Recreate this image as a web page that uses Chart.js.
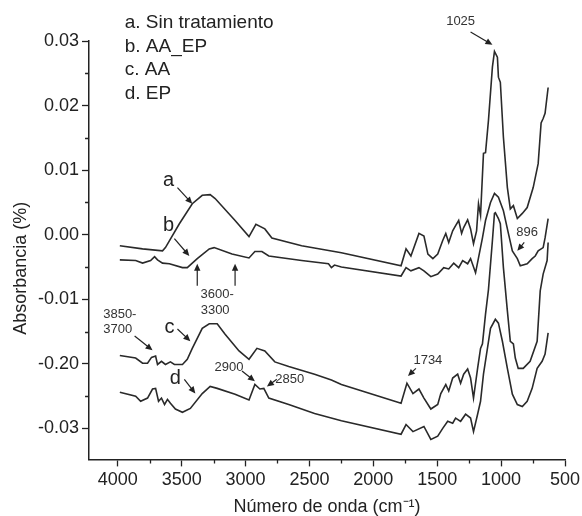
<!DOCTYPE html>
<html>
<head>
<meta charset="utf-8">
<script src="https://cdn.jsdelivr.net/npm/chart.js@4.4.1/dist/chart.umd.min.js"></script>
<style>
  body { margin: 0; background: #fff; }
</style>
</head>
<body>
<canvas id="ftir" width="582" height="516"></canvas>
<script>
// spectra (wavenumber cm-1 / absorbance with offset)
const waveA = [3984,3806,3650,3627,3518,3417,3339,3277,3238,3082,2973,2919,2849,2794,2561,2250,1783,1744,1706,1643,1604,1573,1534,1496,1457,1433,1410,1379,1356,1332,1309,1293,1262,1239,1216,1192,1177,1161,1138,1122,1099,1068,1052,1029,1021,1006,982,951,928,904,873,834,796,749,710,687,671,656,632];
const absA = [-0.0017,-0.0022,-0.0025,-0.0020,0.0017,0.0048,0.0061,0.0062,0.0056,0.0022,-0.0003,0.0016,0.0009,-0.0005,-0.0017,-0.0028,-0.0048,-0.0022,-0.0033,0.0002,-0.0002,-0.0030,-0.0037,-0.0030,-0.0009,0.0002,-0.0012,0.0006,0.0014,0.0022,0.0002,0.0011,0.0023,0.0009,-0.0014,0.0006,0.0048,0.0030,0.0126,0.0127,0.0177,0.0260,0.0284,0.0275,0.0244,0.0236,0.0151,0.0073,0.0040,0.0045,0.0025,0.0033,0.0042,0.0073,0.0110,0.0173,0.0180,0.0188,0.0228];

const waveB = [3984,3860,3806,3743,3712,3689,3650,3596,3494,3456,3378,3284,3246,3106,2973,2927,2872,2818,2561,2351,2328,2304,2250,1783,1744,1706,1643,1604,1550,1496,1449,1410,1371,1332,1301,1262,1239,1200,1177,1146,1122,1083,1052,1021,982,943,912,873,850,796,757,733,710,671,656,632];
const absB = [-0.0039,-0.0040,-0.0044,-0.0040,-0.0034,-0.0039,-0.0044,-0.0045,-0.0051,-0.0051,-0.0037,-0.0022,-0.0020,-0.0030,-0.0036,-0.0026,-0.0026,-0.0033,-0.0040,-0.0045,-0.0051,-0.0047,-0.0050,-0.0064,-0.0051,-0.0056,-0.0051,-0.0056,-0.0065,-0.0061,-0.0051,-0.0053,-0.0044,-0.0051,-0.0040,-0.0045,-0.0037,-0.0059,-0.0036,-0.0005,0.0022,0.0050,0.0064,0.0058,0.0037,0.0002,-0.0025,-0.0037,-0.0048,-0.0045,-0.0037,-0.0033,-0.0025,-0.0020,-0.0005,0.0025];

const waveC = [3984,3860,3806,3767,3736,3704,3689,3658,3627,3588,3557,3494,3456,3417,3339,3284,3222,3160,3051,2973,2911,2849,2771,2662,2460,2328,2250,1783,1737,1690,1643,1604,1550,1496,1472,1433,1410,1379,1340,1317,1293,1262,1239,1216,1184,1161,1146,1122,1099,1068,1052,1045,1021,1006,982,951,928,904,889,866,827,773,718,694,671,640,632];
const absC = [-0.0187,-0.0191,-0.0199,-0.0199,-0.0190,-0.0188,-0.0201,-0.0196,-0.0201,-0.0197,-0.0201,-0.0201,-0.0193,-0.0176,-0.0145,-0.0138,-0.0138,-0.0154,-0.0180,-0.0193,-0.0176,-0.0180,-0.0197,-0.0204,-0.0216,-0.0225,-0.0232,-0.0261,-0.0230,-0.0246,-0.0239,-0.0253,-0.0270,-0.0263,-0.0246,-0.0232,-0.0242,-0.0222,-0.0216,-0.0230,-0.0216,-0.0208,-0.0222,-0.0253,-0.0207,-0.0176,-0.0169,-0.0123,-0.0085,-0.0009,0.0033,0.0034,0.0025,0.0017,-0.0051,-0.0118,-0.0165,-0.0169,-0.0191,-0.0207,-0.0207,-0.0196,-0.0165,-0.0087,-0.0061,-0.0040,-0.0012];

const waveD = [3984,3860,3821,3767,3728,3704,3681,3658,3634,3611,3588,3549,3494,3432,3339,3277,3222,3082,2973,2927,2888,2857,2818,2662,2460,2250,1783,1744,1690,1604,1550,1496,1457,1418,1379,1356,1317,1278,1239,1216,1184,1161,1138,1107,1083,1045,1021,990,951,912,873,834,796,757,718,679,656,632];
const absD = [-0.0244,-0.0250,-0.0258,-0.0253,-0.0239,-0.0238,-0.0258,-0.0253,-0.0263,-0.0255,-0.0261,-0.0270,-0.0275,-0.0269,-0.0246,-0.0235,-0.0238,-0.0247,-0.0256,-0.0232,-0.0239,-0.0238,-0.0253,-0.0263,-0.0277,-0.0288,-0.0309,-0.0294,-0.0305,-0.0297,-0.0317,-0.0312,-0.0300,-0.0289,-0.0292,-0.0284,-0.0289,-0.0278,-0.0284,-0.0305,-0.0278,-0.0258,-0.0216,-0.0176,-0.0145,-0.0131,-0.0137,-0.0165,-0.0207,-0.0247,-0.0263,-0.0266,-0.0258,-0.0238,-0.0207,-0.0196,-0.0185,-0.0152];

const seriesNames = ['a. Sin tratamiento', 'b. AA_EP', 'c. AA', 'd. EP'];

const xTicks = [500,1000,1500,2000,2500,3000,3500,4000];
const xMinor = [750,1250,1750,2250,2750,3250,3750];
const yTicks = [-0.03,-0.02,-0.01,0,0.01,0.02,0.03];
const yTickLabels = ['-0.03','-0.20','-0.01','0.00','0.01','0.02','0.03'];
const yMinor = [-0.025,-0.015,-0.005,0.005,0.015,0.025];

// text notes on the plot, in data coordinates
const notes = [
  { t: 'a', x: 3603, y: 0.0084, size: 20 },
  { t: 'b', x: 3603, y: 0.0014, size: 20 },
  { t: 'c', x: 3596, y: -0.0143, size: 20 },
  { t: 'd', x: 3549, y: -0.0222, size: 20 },
  { t: '3600-', x: 3222, y: -0.0092, size: 13 },
  { t: '3300', x: 3238, y: -0.0117, size: 13 },
  { t: '3850-', x: 3984, y: -0.0123, size: 13 },
  { t: '3700', x: 4000, y: -0.0146, size: 13 },
  { t: '2900', x: 3129, y: -0.0205, size: 13 },
  { t: '2850', x: 2654, y: -0.0224, size: 13 },
  { t: '1734', x: 1573, y: -0.0194, size: 13 },
  { t: '896', x: 796, y: 0.0003, size: 13 },
  { t: '1025', x: 1317, y: 0.0331, size: 13 }
];
const arrows = [
  [3533, 0.0073, 3417, 0.0048],
  [3557, -0.0006, 3440, -0.0033],
  [3378, -0.0079, 3378, -0.0045],
  [3082, -0.0079, 3082, -0.0045],
  [3868, -0.0157, 3728, -0.0179],
  [3533, -0.0146, 3432, -0.0165],
  [3479, -0.0224, 3393, -0.0246],
  [3028, -0.0211, 2927, -0.0227],
  [2756, -0.0224, 2833, -0.0235],
  [1667, -0.0207, 1729, -0.0219],
  [819, -0.0012, 873, -0.0025],
  [1239, 0.0314, 1068, 0.0294]
];

const FONT = '"Liberation Sans", Arial, sans-serif';
const INK = '#222';

function zip(xs, ys) {
  return xs.map((x, i) => ({ x: x, y: ys[i] }));
}

const overlay = {
  id: 'overlay',
  afterDraw(chart) {
    const ctx = chart.ctx;
    const sx = chart.scales.x, sy = chart.scales.y;
    const area = chart.chartArea;
    ctx.save();

    // minor ticks
    ctx.strokeStyle = INK;
    ctx.lineWidth = 1.3;
    ctx.beginPath();
    xMinor.forEach(v => {
      const px = Math.round(sx.getPixelForValue(v)) + 0.5;
      ctx.moveTo(px, area.bottom);
      ctx.lineTo(px, area.bottom + 4);
    });
    yMinor.forEach(v => {
      const py = Math.round(sy.getPixelForValue(v)) + 0.5;
      ctx.moveTo(area.left, py);
      ctx.lineTo(area.left - 4, py);
    });
    ctx.stroke();

    // y title
    ctx.fillStyle = INK;
    ctx.font = '18px ' + FONT;
    ctx.textAlign = 'center';
    ctx.textBaseline = 'middle';
    ctx.save();
    ctx.translate(area.left - 68, (area.top + area.bottom) / 2 + 18);
    ctx.rotate(-Math.PI / 2);
    ctx.fillText('Absorbancia (%)', 0, 0);
    ctx.restore();

    // legend block
    ctx.font = '19px ' + FONT;
    ctx.textAlign = 'left';
    const lx = sx.getPixelForValue(3946);
    const ly = [0.0328, 0.0291, 0.0255, 0.0219];
    seriesNames.forEach((name, i) => {
      ctx.fillText(name, lx, sy.getPixelForValue(ly[i]));
    });

    // notes
    ctx.textAlign = 'center';
    notes.forEach(n => {
      ctx.font = n.size + 'px ' + FONT;
      ctx.fillStyle = n.size > 15 ? INK : '#333';
      ctx.fillText(n.t, sx.getPixelForValue(n.x), sy.getPixelForValue(n.y));
    });

    // arrows
    ctx.strokeStyle = INK;
    ctx.fillStyle = INK;
    ctx.lineWidth = 1.2;
    arrows.forEach(a => {
      const x1 = sx.getPixelForValue(a[0]), y1 = sy.getPixelForValue(a[1]);
      const x2 = sx.getPixelForValue(a[2]), y2 = sy.getPixelForValue(a[3]);
      const ang = Math.atan2(y2 - y1, x2 - x1);
      const hl = 7, hw = 3.2;
      ctx.beginPath();
      ctx.moveTo(x1, y1);
      ctx.lineTo(x2 - Math.cos(ang) * hl * 0.8, y2 - Math.sin(ang) * hl * 0.8);
      ctx.stroke();
      ctx.beginPath();
      ctx.moveTo(x2, y2);
      ctx.lineTo(x2 - Math.cos(ang) * hl - Math.sin(ang) * hw, y2 - Math.sin(ang) * hl + Math.cos(ang) * hw);
      ctx.lineTo(x2 - Math.cos(ang) * hl + Math.sin(ang) * hw, y2 - Math.sin(ang) * hl - Math.cos(ang) * hw);
      ctx.closePath();
      ctx.fill();
    });

    ctx.restore();
  }
};

const lineStyle = {
  borderColor: '#2a2a2a',
  borderWidth: 1.6,
  pointRadius: 0,
  tension: 0,
  fill: false
};

new Chart(document.getElementById('ftir'), {
  type: 'line',
  data: {
    datasets: [
      Object.assign({ label: seriesNames[0], data: zip(waveA, absA) }, lineStyle),
      Object.assign({ label: seriesNames[1], data: zip(waveB, absB) }, lineStyle),
      Object.assign({ label: seriesNames[2], data: zip(waveC, absC) }, lineStyle),
      Object.assign({ label: seriesNames[3], data: zip(waveD, absD) }, lineStyle)
    ]
  },
  options: {
    responsive: false,
    animation: false,
    devicePixelRatio: 1,
    layout: { padding: { left: 35, right: 17, top: 41, bottom: 0 } },
    plugins: {
      legend: { display: false },
      tooltip: { enabled: false }
    },
    scales: {
      x: {
        type: 'linear',
        reverse: true,
        min: 500,
        max: 4225,
        afterBuildTicks: scale => { scale.ticks = xTicks.map(v => ({ value: v })); },
        ticks: {
          autoSkip: false,
          maxRotation: 0,
          padding: 3,
          color: INK,
          font: { family: FONT, size: 18 },
          callback: v => String(v)
        },
        grid: { drawOnChartArea: false, tickLength: 7, tickColor: INK, tickWidth: 1.3 },
        border: { color: INK, width: 1.5 },
        title: {
          display: true,
          text: 'Número de onda (cm⁻¹)',
          color: INK,
          font: { family: FONT, size: 18, lineHeight: 1 },
          padding: { top: 4, bottom: 0 }
        }
      },
      y: {
        type: 'linear',
        min: -0.0348,
        max: 0.03,
        afterBuildTicks: scale => { scale.ticks = yTicks.map(v => ({ value: v })); },
        ticks: {
          autoSkip: false,
          padding: 3,
          color: INK,
          font: { family: FONT, size: 18 },
          callback: v => {
            const i = yTicks.findIndex(t => Math.abs(t - v) < 1e-6);
            return i >= 0 ? yTickLabels[i] : '';
          }
        },
        grid: { drawOnChartArea: false, tickLength: 7, tickColor: INK, tickWidth: 1.3 },
        border: { color: INK, width: 1.5 }
      }
    }
  },
  plugins: [overlay]
});
</script>
</body>
</html>
